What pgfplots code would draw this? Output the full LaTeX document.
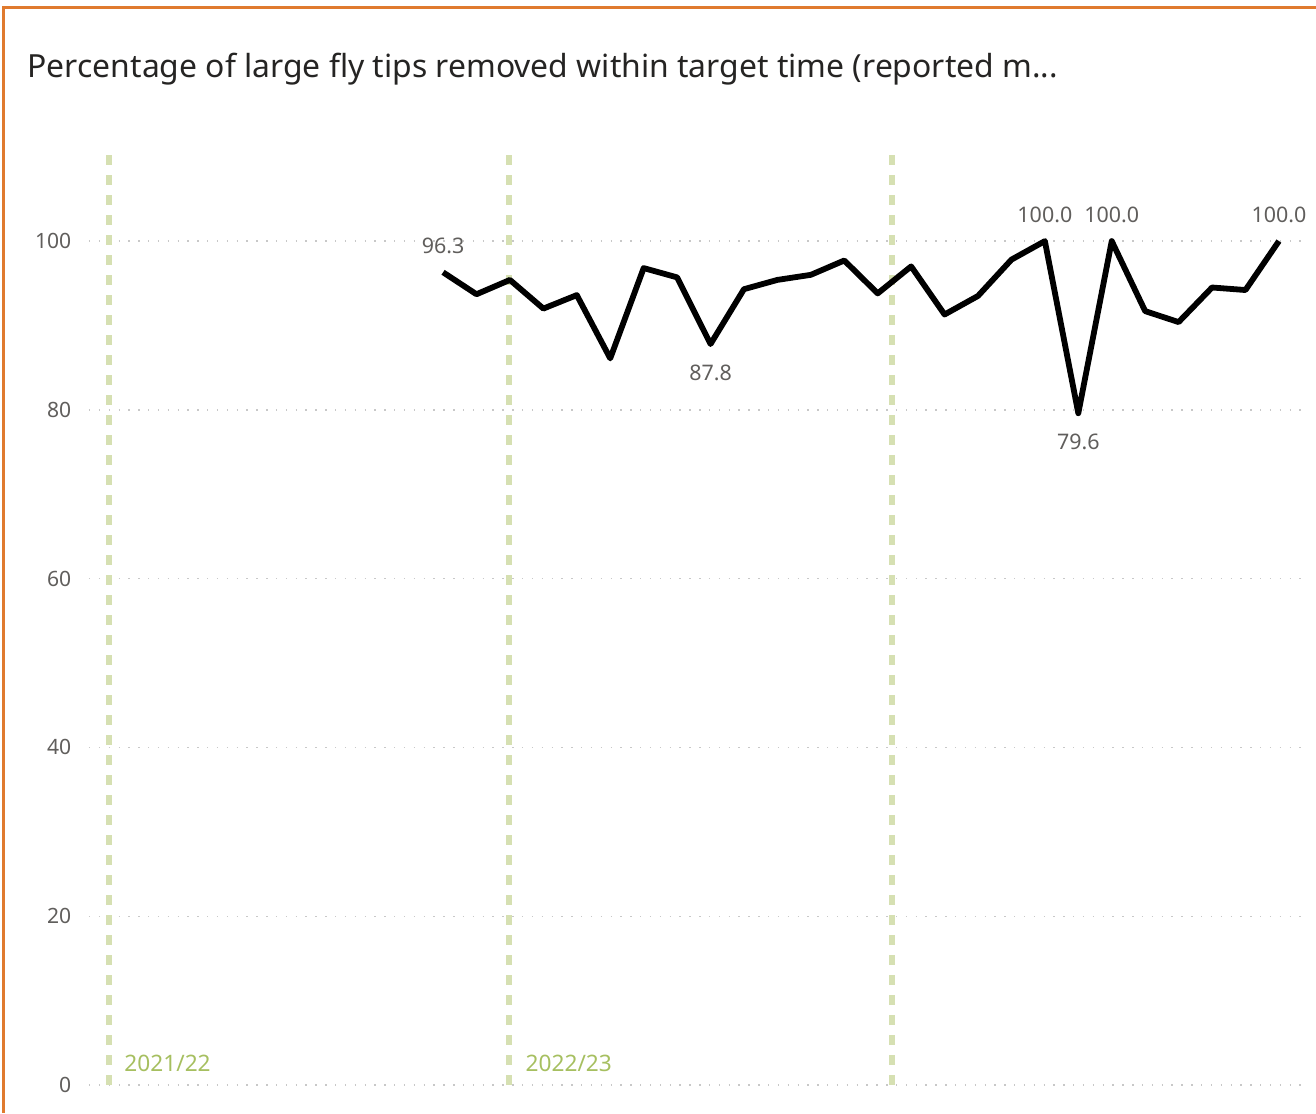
\documentclass[border=0pt]{standalone}
\usepackage{pgfplots}
\pgfplotsset{compat=1.18}
\usepackage{fontspec}
\setmainfont{Noto Sans}
\definecolor{frameorange}{HTML}{E07A2E}
\definecolor{titlegray}{HTML}{252423}
\definecolor{labelgray}{HTML}{605E5C}
\definecolor{yeargreen}{HTML}{A6BF60}
\definecolor{yearline}{HTML}{D6E0B2}
\definecolor{gridgray}{HTML}{C8C8C8}

% monthly values, x = month index
\pgfplotstableread{
x y
0 96.3
1 93.7
2 95.4
3 92.0
4 93.6
5 86.1
6 96.8
7 95.7
8 87.8
9 94.3
10 95.4
11 96.0
12 97.7
13 93.8
14 97.0
15 91.3
16 93.5
17 97.8
18 100.0
19 79.6
20 100.0
21 91.7
22 90.4
23 94.5
24 94.2
25 100.0
}\flytips

\begin{document}
\begin{tikzpicture}
\path[use as bounding box] (0,0) rectangle (13.16,11.13);
\draw[frameorange, line width=0.03cm] (0.035,0) -- (0.035,11.05) -- (13.16,11.05);
\node[anchor=base west, text=titlegray, font=\fontsize{9.07}{10}\selectfont, inner sep=0pt]
  at (0.27,10.36) {Percentage of large fly tips removed within target time (reported m...};
\begin{axis}[
    at={(0.89cm,0.28cm)},
    anchor=south west,
    scale only axis,
    width=12.2cm,
    height=9.30cm,
    xmin=-10.59, xmax=25.9,
    ymin=0, ymax=110.2,
    ytick={0,20,40,60,80,100},
    xtick=\empty,
    axis line style={draw=none},
    major tick length=0pt,
    ymajorgrids=true,
    grid style={gridgray, line width=0.4pt, dash pattern=on 0.4pt off 2.4pt},
    yticklabel style={text=labelgray, font=\fontsize{6}{7}\selectfont, xshift=-1.5pt},
    /pgf/number format/assume math mode=true,
    clip=false,
]
% financial year markers
\addplot[yearline, line width=0.06cm, dash pattern=on 0.1cm off 0.1cm] coordinates {(-10,0) (-10,110.2)};
\addplot[yearline, line width=0.06cm, dash pattern=on 0.1cm off 0.1cm] coordinates {(1.97,0) (1.97,110.2)};
\addplot[yearline, line width=0.06cm, dash pattern=on 0.1cm off 0.1cm] coordinates {(13.43,0) (13.43,110.2)};
\node[anchor=base west, text=yeargreen, font=\fontsize{6.45}{7}\selectfont, inner sep=0pt] at (axis cs:-9.55,1.6) {2021/22};
\node[anchor=base west, text=yeargreen, font=\fontsize{6.45}{7}\selectfont, inner sep=0pt] at (axis cs:2.45,1.6) {2022/23};
% main series
\addplot[black, line width=0.058cm, line join=round, mark=none] table[x=x,y=y] {\flytips};
% data labels above
\addplot[draw=none, mark=none, nodes near coords, point meta=y,
  every node near coord/.append style={text=labelgray, font=\fontsize{6.1}{7}\selectfont, anchor=south, yshift=1.6pt},
  /pgf/number format/.cd, fixed, fixed zerofill, precision=1]
  coordinates {(0,96.3) (18,100.0) (20,100.0) (25,100.0)};
% data labels below
\addplot[draw=none, mark=none, nodes near coords, point meta=y,
  every node near coord/.append style={text=labelgray, font=\fontsize{6.1}{7}\selectfont, anchor=north, yshift=-2.4pt},
  /pgf/number format/.cd, fixed, fixed zerofill, precision=1]
  coordinates {(8,87.8) (19,79.6)};
\end{axis}
\end{tikzpicture}
\end{document}
